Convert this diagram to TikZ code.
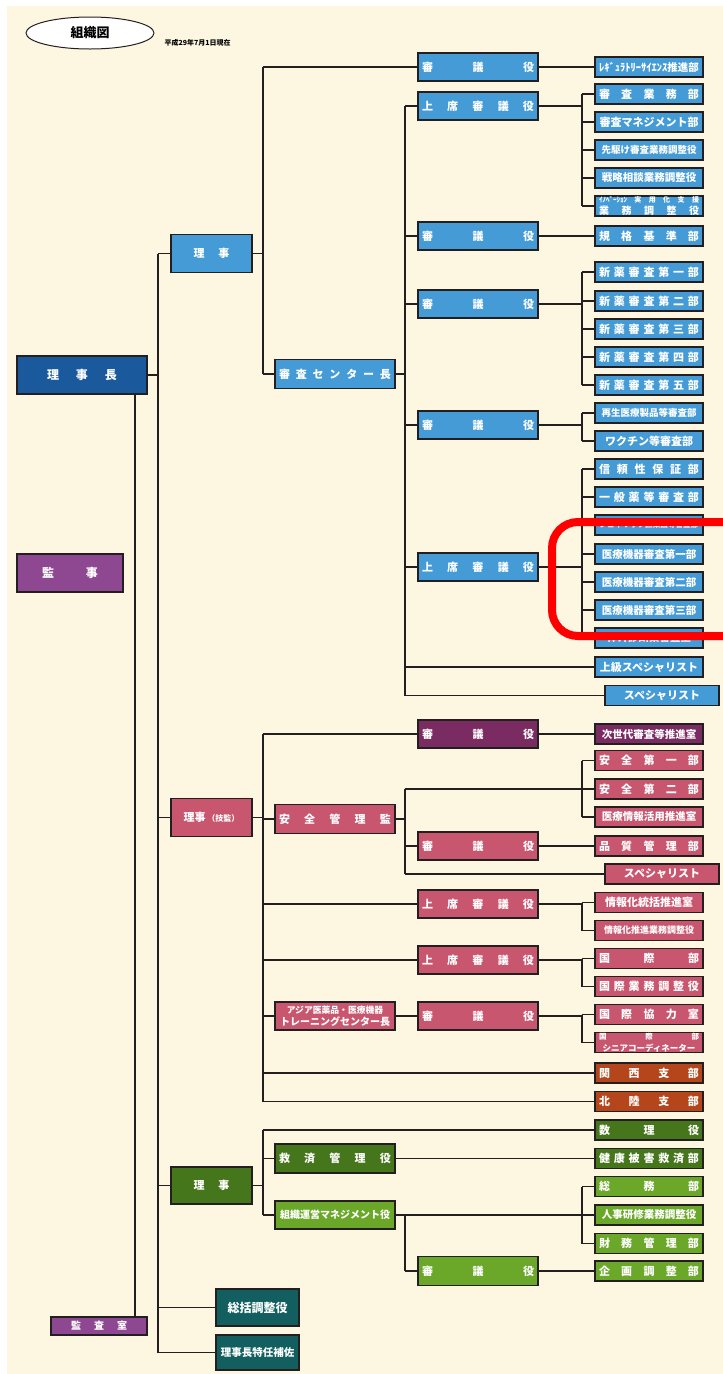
\documentclass[tikz,border=0pt]{standalone}
\usepackage{fontspec}
\setmainfont{Noto Sans CJK JP}
\usetikzlibrary{shapes.geometric}
\definecolor{cream}{HTML}{FDF6E1}
\definecolor{cdblue}{HTML}{1A5A9C}
\definecolor{clblue}{HTML}{449BD6}
\definecolor{cpurple}{HTML}{8E4891}
\definecolor{cdpurple}{HTML}{7A2B62}
\definecolor{cpink}{HTML}{C9566F}
\definecolor{cbrown}{HTML}{B5461B}
\definecolor{cdgreen}{HTML}{46761B}
\definecolor{clgreen}{HTML}{6BA82A}
\definecolor{cteal}{HTML}{135F60}
\definecolor{cline}{HTML}{231F20}
\newcommand{\fs}[1]{\fontsize{#1}{#1}\selectfont}
\newcommand{\spr}[2]{\makebox[#1][s]{#2}}
\begin{document}
\begin{tikzpicture}[x=1pt,y=-1pt,
  box/.style={draw=cline, line width=1.3pt, inner sep=0pt, text=white, font=\bfseries, align=center},
  rb/.style={box, minimum width=108pt, minimum height=20pt},
  mb/.style={box, minimum width=120pt, minimum height=28pt},
  cb/.style={box, minimum width=120pt, minimum height=29pt},
  lb/.style={box, minimum width=81pt, minimum height=38pt},
  conn/.style={draw=cline, line width=1.3pt}]
\useasboundingbox (0,0) rectangle (723,1374);
\clip (0,0) rectangle (723,1374);
\fill[white] (0,0) rectangle (723,1374);
\fill[cream] (7,6) rectangle (723,1374);

% header
\node[draw=cline, line width=1pt, ellipse, fill=white, minimum width=128pt, minimum height=32pt, font=\bfseries\fs{13}] (title) at (90,33) {組織図};
\node[anchor=west, font=\bfseries\fs{7}] (date) at (161,43) {平成29年7月1日現在};

% coordinates of trunk lines
\coordinate (lx) at (158,0);
\coordinate (kx) at (135,0);
\coordinate (tx) at (263,0);
\coordinate (mx) at (405,0);
\coordinate (bx) at (582,0);

% left column
\node[box, fill=cdblue, minimum width=130pt, minimum height=38pt] (chief) at (82,375) {\fs{12}\spr{70pt}{理 事 長}};
\node[box, fill=cpurple, minimum width=106pt, minimum height=38pt] (kanji) at (70,573) {\fs{12}\spr{56pt}{監 事}};
\node[box, fill=cpurple, minimum width=96pt, minimum height=18pt] (audit) at (99,1326) {\fs{10}\spr{56pt}{監 査 室}};

\node[lb, fill=clblue] (rjA) at (211.5,253.5) {\fs{11}\spr{36pt}{理 事}};
\node[lb, fill=cpink] (rjB) at (211.5,817.5) {\fs{11}理事\,{\fs{8}（技監）}};
\node[lb, fill=cdgreen, minimum height=37pt] (rjC) at (211.5,1185.5) {\fs{11}\spr{36pt}{理 事}};
\node[box, fill=cteal, minimum width=83pt, minimum height=37pt] (sokatsu) at (257.5,1307.5) {\fs{12}総括調整役};
\node[box, fill=cteal, minimum width=83pt, minimum height=35pt] (tokunin) at (257.5,1352.5) {\fs{10.5}理事長特任補佐};

% ---------- blue branch ----------
\node[cb, fill=clblue] (center) at (335,374) {\fs{11}\spr{112pt}{審 査 セ ン タ ー 長}};
\node[mb, fill=clblue] (bA) at (478,67) {\fs{11}\spr{112pt}{審 議 役}};
\node[mb, fill=clblue] (bB) at (478,106) {\fs{11}\spr{112pt}{上 席 審 議 役}};
\node[mb, fill=clblue] (bC) at (478,236) {\fs{11}\spr{112pt}{審 議 役}};
\node[mb, fill=clblue] (bD) at (478,304) {\fs{11}\spr{112pt}{審 議 役}};
\node[mb, fill=clblue] (bE) at (478,425) {\fs{11}\spr{112pt}{審 議 役}};
\node[mb, fill=clblue] (bF) at (478,567) {\fs{11}\spr{112pt}{上 席 審 議 役}};

\node[rb, fill=clblue] (r1) at (649,67) {\fs{10.5}ﾚｷﾞｭﾗﾄﾘｰｻｲｴﾝｽ推進部};
\node[rb, fill=clblue] (r2) at (649,94) {\fs{11}\spr{100pt}{審 査 業 務 部}};
\node[rb, fill=clblue] (r3) at (649,122) {\fs{11}審査マネジメント部};
\node[rb, fill=clblue] (r4) at (649,150) {\fs{9.5}先駆け審査業務調整役};
\node[rb, fill=clblue] (r5) at (649,178) {\fs{10.5}戦略相談業務調整役};
\node[rb, fill=clblue] (r6) at (649,206) {\fontsize{7}{8}\selectfont\spr{100pt}{ｲﾉﾍﾞｰｼｮﾝ 実 用 化 支 援}\\\spr{100pt}{業 務 調 整 役}};
\node[rb, fill=clblue] (r7) at (649,236) {\fs{11}\spr{100pt}{規 格 基 準 部}};
\node[rb, fill=clblue] (r8) at (649,272) {\fs{11}\spr{100pt}{新 薬 審 査 第 一 部}};
\node[rb, fill=clblue] (r9) at (649,301) {\fs{11}\spr{100pt}{新 薬 審 査 第 二 部}};
\node[rb, fill=clblue] (r10) at (649,329) {\fs{11}\spr{100pt}{新 薬 審 査 第 三 部}};
\node[rb, fill=clblue] (r11) at (649,357) {\fs{11}\spr{100pt}{新 薬 審 査 第 四 部}};
\node[rb, fill=clblue] (r12) at (649,385) {\fs{11}\spr{100pt}{新 薬 審 査 第 五 部}};
\node[rb, fill=clblue] (r13) at (649,413) {\fs{9.5}再生医療製品等審査部};
\node[rb, fill=clblue] (r14) at (649,441) {\fs{11}ワクチン等審査部};
\node[rb, fill=clblue] (r15) at (649,469) {\fs{11}\spr{100pt}{信 頼 性 保 証 部}};
\node[rb, fill=clblue] (r16) at (649,497) {\fs{11}\spr{100pt}{一 般 薬 等 審 査 部}};
\node[rb, fill=clblue] (r17) at (649,525) {\fs{7.6}ジェネリック医薬品等審査部};
\node[rb, fill=clblue] (r18) at (649,554) {\fs{10.5}医療機器審査第一部};
\node[rb, fill=clblue] (r19) at (649,582) {\fs{10.5}医療機器審査第二部};
\node[rb, fill=clblue] (r20) at (649,610) {\fs{10.5}医療機器審査第三部};
\node[rb, fill=clblue] (r21) at (649,638) {\fs{10.5}体外診断薬審査室};
\node[rb, fill=clblue] (r22) at (649,667) {\fs{11}上級スペシャリスト};
\node[box, fill=clblue, minimum width=114pt, minimum height=20pt] (r23) at (662,695.5) {\fs{11}スペシャリスト};

% blue connectors
\draw[conn] (rjA.east) -- (rjA.east -| tx);
\draw[conn] (bA.west -| tx) -- (center.west -| tx);
\draw[conn] (bA.west -| tx) -- (bA.west);
\draw[conn] (center.west -| tx) -- (center.west);
\draw[conn] (center.east) -- (center.east -| mx);
\draw[conn] (bB.west -| mx) -- (r23.west -| mx);
\foreach \n in {bB,bC,bD,bE,bF,r22,r23} { \draw[conn] (\n.west -| mx) -- (\n.west); }
\draw[conn] (bA.east) -- (r1.west);
\draw[conn] (bC.east) -- (r7.west);
\draw[conn] (bB.east) -- (bB.east -| bx);
\draw[conn] (bD.east) -- (bD.east -| bx);
\draw[conn] (bE.east) -- (bE.east -| bx);
\draw[conn] (bF.east) -- (bF.east -| bx);
\draw[conn] (r2.west -| bx) -- (r6.west -| bx);
\draw[conn] (r8.west -| bx) -- (r12.west -| bx);
\draw[conn] (r13.west -| bx) -- (r14.west -| bx);
\draw[conn] (r15.west -| bx) -- (r21.west -| bx);
\foreach \n in {r2,r3,r4,r5,r6,r8,r9,r10,r11,r12,r13,r14,r15,r16,r17,r18,r19,r20,r21} { \draw[conn] (\n.west -| bx) -- (\n.west); }

% ---------- pink branch ----------
\node[mb, fill=cdpurple] (pA) at (478,734) {\fs{11}\spr{112pt}{審 議 役}};
\node[cb, fill=cpink] (safety) at (335,819) {\fs{11}\spr{112pt}{安 全 管 理 監}};
\node[mb, fill=cpink] (pQ) at (478,846) {\fs{11}\spr{112pt}{審 議 役}};
\node[mb, fill=cpink] (pG) at (478,904) {\fs{11}\spr{112pt}{上 席 審 議 役}};
\node[mb, fill=cpink] (pH) at (478,960) {\fs{11}\spr{112pt}{上 席 審 議 役}};
\node[cb, fill=cpink, minimum height=28pt] (asia) at (335,1016) {\fontsize{8.8}{9.6}\selectfont アジア医薬品・医療機器\\トレーニングセンター長};
\node[mb, fill=cpink] (pI) at (478,1016) {\fs{11}\spr{112pt}{審 議 役}};

\node[rb, fill=cdpurple] (p1) at (649,734) {\fs{10.5}次世代審査等推進室};
\node[rb, fill=cpink] (p2) at (649,760.5) {\fs{11}\spr{100pt}{安 全 第 一 部}};
\node[rb, fill=cpink] (p3) at (649,789) {\fs{11}\spr{100pt}{安 全 第 二 部}};
\node[rb, fill=cpink] (p4) at (649,817) {\fs{10.5}医療情報活用推進室};
\node[rb, fill=cpink] (p5) at (649,846) {\fs{11}\spr{100pt}{品 質 管 理 部}};
\node[box, fill=cpink, minimum width=114pt, minimum height=20pt] (p6) at (662,874) {\fs{11}スペシャリスト};
\node[rb, fill=cpink] (p7) at (649,902.5) {\fs{11}情報化統括推進室};
\node[rb, fill=cpink] (p8) at (649,930.5) {\fs{9}情報化推進業務調整役};
\node[rb, fill=cpink] (p9) at (649,958.5) {\fs{11}\spr{100pt}{国 際 部}};
\node[rb, fill=cpink] (p10) at (649,986.5) {\fs{11}\spr{100pt}{国 際 業 務 調 整 役}};
\node[rb, fill=cpink] (p11) at (649,1014.5) {\fs{11}\spr{100pt}{国 際 協 力 室}};
\node[rb, fill=cpink] (p12) at (649,1042.5) {\fontsize{7.5}{8.5}\selectfont\spr{100pt}{国 際 部}\\{\fs{8.5}シニアコーディネーター}};
\node[rb, fill=cbrown] (p13) at (649,1073) {\fs{11}\spr{100pt}{関 西 支 部}};
\node[rb, fill=cbrown] (p14) at (649,1101.5) {\fs{11}\spr{100pt}{北 陸 支 部}};

% pink connectors
\draw[conn] (rjB.east) -- (rjB.east -| tx);
\draw[conn] (pA.west -| tx) -- (p14.west -| tx);
\foreach \n in {pA,safety,pG,pH,asia,p13,p14} { \draw[conn] (\n.west -| tx) -- (\n.west); }
\draw[conn] (pA.east) -- (p1.west);
\draw[conn] (safety.east) -- (safety.east -| mx);
\draw[conn] (p3.west -| mx) -- (p6.west -| mx);
\draw[conn] (p3.west -| mx) -- (p3.west);
\draw[conn] (pQ.west -| mx) -- (pQ.west);
\draw[conn] (p6.west -| mx) -- (p6.west);
\draw[conn] (pQ.east) -- (p5.west);
\draw[conn] (asia.east) -- (pI.west);
\draw[conn] (pG.east) -- (pG.east -| bx);
\draw[conn] (pH.east) -- (pH.east -| bx);
\draw[conn] (pI.east) -- (pI.east -| bx);
\draw[conn] (p2.west -| bx) -- (p4.west -| bx);
\draw[conn] (p7.west -| bx) -- (p8.west -| bx);
\draw[conn] (p9.west -| bx) -- (p10.west -| bx);
\draw[conn] (p11.west -| bx) -- (p12.west -| bx);
\foreach \n in {p2,p4,p7,p8,p9,p10,p11,p12} { \draw[conn] (\n.west -| bx) -- (\n.west); }

% ---------- green branch ----------
\node[cb, fill=cdgreen] (kyusai) at (335,1158.5) {\fs{11}\spr{112pt}{救 済 管 理 役}};
\node[cb, fill=clgreen, minimum height=28pt] (soshiki) at (335,1215) {\fs{10}組織運営マネジメント役};
\node[mb, fill=clgreen, minimum height=29pt] (gJ) at (478,1271) {\fs{11}\spr{112pt}{審 議 役}};

\node[rb, fill=cdgreen] (g1) at (649,1130) {\fs{11}\spr{100pt}{数 理 役}};
\node[rb, fill=cdgreen] (g2) at (649,1158.5) {\fs{11}\spr{100pt}{健 康 被 害 救 済 部}};
\node[rb, fill=clgreen] (g3) at (649,1186.5) {\fs{11}\spr{100pt}{総 務 部}};
\node[rb, fill=clgreen] (g4) at (649,1215) {\fs{10.5}人事研修業務調整役};
\node[rb, fill=clgreen] (g5) at (649,1243.5) {\fs{11}\spr{100pt}{財 務 管 理 部}};
\node[rb, fill=clgreen] (g6) at (649,1271) {\fs{11}\spr{100pt}{企 画 調 整 部}};

% green connectors
\draw[conn] (rjC.east) -- (rjC.east -| tx);
\draw[conn] (g1.west -| tx) -- (soshiki.west -| tx);
\draw[conn] (g1.west -| tx) -- (g1.west);
\draw[conn] (kyusai.west -| tx) -- (kyusai.west);
\draw[conn] (soshiki.west -| tx) -- (soshiki.west);
\draw[conn] (kyusai.east) -- (g2.west);
\draw[conn] (soshiki.east) -- (g4.west);
\draw[conn] (g3.west -| bx) -- (g5.west -| bx);
\draw[conn] (g3.west -| bx) -- (g3.west);
\draw[conn] (g5.west -| bx) -- (g5.west);
\draw[conn] (soshiki.east -| mx) -- (gJ.west -| mx);
\draw[conn] (gJ.west -| mx) -- (gJ.west);
\draw[conn] (gJ.east) -- (g6.west);

% main trunk
\draw[conn] (chief.east) -- (chief.east -| lx);
\draw[conn] (rjA.west -| lx) -- (tokunin.west -| lx);
\foreach \n in {rjA,rjB,rjC,sokatsu,tokunin} { \draw[conn] (\n.west -| lx) -- (\n.west); }
\draw[conn] (chief.south -| kx) -- (audit.north -| kx);

% highlight
\draw[red, line width=8pt, rounded corners=26pt] (552,522) rectangle (770,636);
\end{tikzpicture}
\end{document}
